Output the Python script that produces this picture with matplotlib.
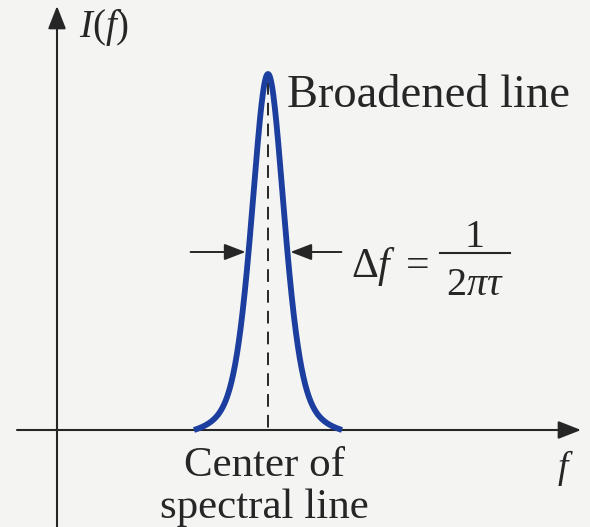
import numpy as np
import matplotlib
matplotlib.use("Agg")
from matplotlib import pyplot as plt

#line profile (units ~ pixels, origin where the axes cross)
F_CENTER = 211
F_HWHM = 20
F_HALF_SPAN = 74
I_PEAK = 356
ETA = 0.5   #lorentz share of the line shape

#axis extents
F_AXIS = [-40, 524]
I_AXIS = [-97, 424]

#texts
AXIS_LABELS = ["$I(f)$", "$f$"]
NOTES = ["Broadened line", "Center of\nspectral line"]
WIDTH_LABEL = [r"$\Delta f\ =$", "1", r"$2\pi\tau$"]

BLUE = "#1c3f9f"
INK = "#262626"
BG = "#f4f4f3"

plt.rcParams["font.family"] = ["Liberation Serif", "DejaVu Serif"]
plt.rcParams["mathtext.fontset"] = "custom"
plt.rcParams["mathtext.rm"] = "Liberation Serif"
plt.rcParams["mathtext.it"] = "Liberation Serif:italic"


#pseudo-voigt line shape, cut off (and pulled down) where it meets the axis
def shape(f):
    t = (f - F_CENTER) / F_HWHM
    return ETA / (1 + t ** 2) + (1 - ETA) * np.exp(-np.log(2) * t ** 2)


def profile(f):
    base = shape(F_CENTER + F_HALF_SPAN)
    return I_PEAK * (shape(f) - base) / (1 - base)


def arrow(ax, start, end, lw=1.5, hl=1.4, hw=0.55):
    ax.annotate("", xy=end, xytext=start,
                arrowprops=dict(arrowstyle="-|>,head_length=%s,head_width=%s" % (hl, hw),
                                lw=lw, color=INK, shrinkA=0, shrinkB=0,
                                mutation_scale=10))


fig = plt.figure(figsize=(5.90, 5.27), dpi=100, facecolor=BG)
ax = fig.add_axes([0, 0, 1, 1])
ax.set_xlim(-57, 533)
ax.set_ylim(-97, 430)
ax.axis("off")

#axes with arrow heads
arrow(ax, (F_AXIS[0], 0), (F_AXIS[1], 0))
arrow(ax, (0, I_AXIS[0]), (0, I_AXIS[1]))

#the broadened line
f = np.linspace(F_CENTER - F_HALF_SPAN, F_CENTER + F_HALF_SPAN, 400)
ax.plot(f, profile(f), color=BLUE, lw=4.2, solid_capstyle="butt", zorder=3)

#dashed centre line
ax.plot([F_CENTER, F_CENTER], [I_PEAK - 8, 0], color=INK, lw=1.4,
        dashes=(6.5, 4.2), zorder=2)

#width arrows at half maximum
half = I_PEAK / 2
fgrid = np.linspace(F_CENTER, F_CENTER + F_HALF_SPAN, 2000)
hw = fgrid[np.argmin(np.abs(profile(fgrid) - half))] - F_CENTER
arrow(ax, (F_CENTER - hw - 58, half), (F_CENTER - hw - 3, half), lw=1.4, hl=1.3, hw=0.5)
arrow(ax, (F_CENTER + hw + 54, half), (F_CENTER + hw + 3, half), lw=1.4, hl=1.3, hw=0.5)

#delta f = 1 / (2 pi tau)
ax.text(294, 153, WIDTH_LABEL[0], fontsize=30, color=INK, ha="left", va="baseline")
ax.plot([383, 453], [177, 177], color=INK, lw=1.5)
ax.text(418, 183, WIDTH_LABEL[1], fontsize=29, color=INK, ha="center", va="baseline")
ax.text(418, 135, WIDTH_LABEL[2], fontsize=29, color=INK, ha="center", va="baseline")

#labels
ax.text(22, 402, AXIS_LABELS[0], fontsize=28, color=INK, ha="left", va="center")
ax.text(508, -38, AXIS_LABELS[1], fontsize=27, color=INK, ha="center", va="center")
ax.text(F_CENTER + 19, 323, NOTES[0], fontsize=33.5, color=INK, ha="left",
        va="baseline")
ax.text(F_CENTER - 4, -16, NOTES[1], fontsize=31, color=INK, ha="center",
        va="top", linespacing=1.12)

fig.savefig("out.png", dpi=100, facecolor=BG)
